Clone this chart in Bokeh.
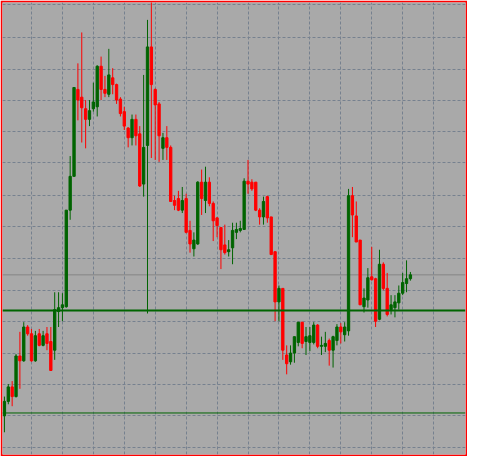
from bokeh.plotting import figure
from bokeh.models import Range1d, Span, Grid, FixedTicker, ColumnDataSource
from bokeh.embed import file_html
from bokeh.resources import INLINE

# OHLC values (arbitrary price units), one candle per bar
opens = [42, 57, 72, 62, 104, 99, 134, 127, 99, 127,
         115, 127, 119, 110, 150, 154, 155, 255, 290, 380,
         372, 360, 349, 360, 362, 404, 380, 375, 392, 385,
         370, 357, 340, 330, 349, 334, 282, 322, 424, 380,
         365, 319, 330, 320, 265, 267, 255, 267, 234, 215,
         220, 284, 265, 284, 262, 247, 237, 219, 212, 216,
         232, 234, 235, 285, 284, 284, 255, 248, 269, 248,
         212, 160, 174, 105, 98, 107, 118, 139, 119, 118,
         118, 136, 114, 114, 120, 110, 120, 134, 126, 130,
         270, 249, 224, 155, 162, 186, 184, 142, 199, 174,
         152, 154, 159, 169, 179, 184]
highs = [62, 75, 78, 106, 129, 139, 136, 132, 130, 132,
         130, 134, 134, 170, 170, 169, 255, 311, 382, 407,
         439, 369, 369, 387, 405, 414, 394, 422, 402, 386,
         372, 362, 341, 354, 354, 342, 395, 452, 475, 381,
         367, 335, 342, 322, 270, 275, 279, 272, 244, 232,
         285, 297, 300, 289, 264, 248, 237, 240, 224, 242,
         242, 244, 288, 307, 287, 284, 257, 269, 270, 248,
         212, 177, 174, 115, 115, 124, 139, 139, 134, 134,
         139, 137, 124, 129, 122, 125, 137, 138, 139, 277,
         279, 264, 224, 174, 195, 217, 185, 214, 201, 190,
         167, 167, 177, 190, 203, 191]
lows = [25, 54, 52, 61, 70, 98, 125, 98, 98, 114,
        114, 110, 89, 100, 134, 140, 154, 245, 290, 348,
        325, 319, 342, 357, 352, 369, 372, 372, 375, 365,
        352, 338, 320, 322, 322, 279, 269, 148, 309, 307,
        305, 307, 307, 264, 255, 254, 252, 231, 211, 207,
        219, 250, 252, 259, 223, 227, 194, 209, 207, 199,
        225, 232, 235, 272, 275, 254, 240, 240, 242, 209,
        140, 140, 100, 85, 95, 97, 114, 112, 105, 109,
        116, 112, 105, 108, 94, 92, 115, 117, 119, 125,
        227, 222, 157, 149, 154, 182, 134, 141, 172, 145,
        147, 144, 152, 167, 170, 182]
closes = [57, 72, 62, 104, 99, 134, 127, 99, 125, 115,
          125, 117, 89, 152, 154, 157, 255, 290, 382, 369,
          361, 349, 358, 367, 404, 380, 376, 395, 385, 369,
          355, 342, 330, 349, 332, 280, 320, 424, 385, 364,
          332, 330, 320, 264, 260, 255, 265, 232, 220, 224,
          284, 267, 284, 262, 244, 239, 214, 211, 214, 234,
          235, 236, 285, 282, 277, 255, 248, 264, 247, 209,
          160, 174, 110, 96, 107, 124, 139, 117, 124, 125,
          136, 114, 115, 117, 110, 124, 134, 129, 134, 270,
          250, 222, 157, 164, 185, 183, 140, 199, 174, 147,
          157, 160, 169, 180, 184, 188]

# grid positions (time ticks as bar indices, price levels)
time_ticks = [7, 15, 23, 31, 39, 47, 55, 63, 71, 79, 87, 95, 103, 111]
price_levels = [468, 434, 401, 369, 336, 304, 270, 238, 205, 172, 140, 107, 74, 42, 9]

# horizontal levels
bid_level = 188
support_level = 151
low_level = 45

UP = "#006400"
DOWN = "#FF0000"

idx = list(range(len(opens)))
colors = [UP if c >= o else DOWN for o, c in zip(opens, closes)]
tops = [max(o, c) for o, c in zip(opens, closes)]
bots = [min(o, c) for o, c in zip(opens, closes)]

src = ColumnDataSource(dict(x=idx, o=opens, h=highs, l=lows, c=closes,
                            top=tops, bot=bots, color=colors))

p = figure(width=467, height=456, output_backend="svg", toolbar_location=None,
           x_range=Range1d(-0.5, 119.25), y_range=Range1d(2, 470),
           x_axis_location=None, y_axis_location=None,
           background_fill_color="#A9A9A9", border_fill_color="#FF0000",
           outline_line_color=None,
           min_border_left=2, min_border_right=2, min_border_top=2, min_border_bottom=2)

p.xgrid.visible = False
p.ygrid.visible = False

gx = Grid(dimension=0, ticker=FixedTicker(ticks=time_ticks),
          grid_line_color="#76818f", grid_line_dash="3 2", grid_line_width=1)
gy = Grid(dimension=1, ticker=FixedTicker(ticks=price_levels),
          grid_line_color="#76818f", grid_line_dash="3 2", grid_line_width=1)
p.add_layout(gx)
p.add_layout(gy)

bid = Span(location=bid_level, dimension="width", line_color="#858585",
           line_width=1, level="underlay")
p.add_layout(bid)

p.segment(x0="x", x1="x", y0="l", y1="h", color="color", line_width=1, source=src)
p.vbar(x="x", width=0.6, top="top", bottom="bot", fill_color="color",
       line_color="color", line_width=1, source=src)

p.add_layout(Span(location=support_level, dimension="width", line_color=UP, line_width=2))
p.add_layout(Span(location=low_level, dimension="width", line_color=UP, line_width=1))

open("out.html", "w").write(file_html(p, INLINE))
